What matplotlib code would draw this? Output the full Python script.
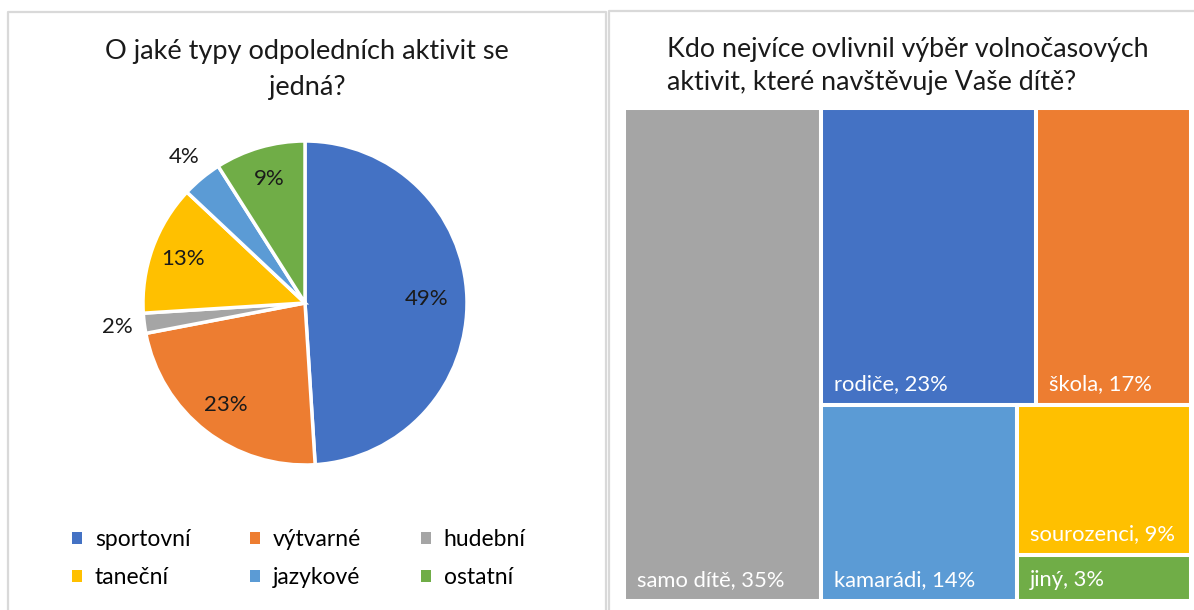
import numpy as np
import matplotlib.pyplot as plt
from matplotlib.patches import Rectangle, Patch

plt.rcParams['font.family'] = ['Lato', 'DejaVu Sans']

# pie: O jaké typy odpoledních aktivit se jedná?
pie_labels = ['sportovní', 'výtvarné', 'hudební', 'taneční', 'jazykové', 'ostatní']
pie_values = [49, 23, 2, 13, 4, 9]
pie_colors = ['#4472C4', '#ED7D31', '#A5A5A5', '#FFC000', '#5B9BD5', '#70AD47']

# treemap: Kdo nejvíce ovlivnil výběr ...
tm_labels = ['samo dítě', 'rodiče', 'škola', 'kamarádi', 'sourozenci', 'jiný']
tm_values = [35.0, 22.9, 16.6, 13.8, 9.4, 2.9]
tm_colors = ['#A5A5A5', '#4472C4', '#ED7D31', '#5B9BD5', '#FFC000', '#70AD47']

W, H = 1194, 610
fig = plt.figure(figsize=(W / 100, H / 100), dpi=100)


def px_axes(x, y, w, h):
    # axes placed by pixel box (top-left origin)
    return fig.add_axes([x / W, 1 - (y + h) / H, w / W, h / H])


# background with panel frames and titles
bg = px_axes(0, 0, W, H)
bg.set_xlim(0, W)
bg.set_ylim(H, 0)
bg.axis('off')
bg.plot([8, 8, 606, 606], [620, 12, 12, 620], color='#D9D9D9', lw=1.6)
bg.plot([609, 609, 1200], [620, 11, 11], color='#D9D9D9', lw=1.6)

bg.text(307, 69, 'O jaké typy odpoledních aktivit se\njedná?', ha='center', va='center',
        fontsize=19.5, color='#1a1a1a', linespacing=1.55)
bg.text(667, 66, 'Kdo nejvíce ovlivnil výběr volnočasových\naktivit, které navštěvuje Vaše dítě?',
        ha='left', va='center', fontsize=19.3, color='#1a1a1a', linespacing=1.38)

# ---- pie ----
ax = px_axes(143, 141, 324, 324)
wedges, _ = ax.pie(pie_values, colors=pie_colors, startangle=90, counterclock=False,
                   wedgeprops=dict(edgecolor='white', linewidth=2.5))
ax.set_xlim(-1, 1)
ax.set_ylim(-1, 1)
for w, v in zip(wedges, pie_values):
    mid = np.deg2rad((w.theta1 + w.theta2) / 2)
    if v < 5:
        r = 1.17
    elif v > 40:
        r = 0.75
    else:
        r = 0.8
    ax.text(r * np.cos(mid), r * np.sin(mid), f'{v}%', ha='center', va='center',
            fontsize=16, color='#1a1a1a')

# legend fills column by column, so reorder to read row by row
order = [0, 3, 1, 4, 2, 5]
handles = [Patch(facecolor=pie_colors[i]) for i in order]
fig.legend(handles, [pie_labels[i] for i in order], ncol=3, loc='upper left',
           bbox_to_anchor=(72 / W, 1 - 529 / H),
           frameon=False, fontsize=16.5, handlelength=0.45, handleheight=0.45, handletextpad=0.55,
           columnspacing=2.6, labelspacing=0.75, borderpad=0, borderaxespad=0)

# ---- treemap ----
tx, ty, tw, th = 624, 108, 567, 493
ax2 = px_axes(tx, ty, tw, th)
ax2.set_xlim(0, tw)
ax2.set_ylim(th, 0)
ax2.axis('off')

total = sum(tm_values)
rest = total - tm_values[0]
top = tm_values[1] + tm_values[2]
bottom = rest - top
side = tm_values[4] + tm_values[5]

w0 = tw * tm_values[0] / total
wr = tw - w0
h_top = th * top / rest
h_bot = th - h_top
w_rod = wr * tm_values[1] / top
w_kam = wr * tm_values[3] / bottom
h_sou = h_bot * tm_values[4] / side

boxes = [
    (0, 0, w0, th),
    (w0, 0, w_rod, h_top),
    (w0 + w_rod, 0, wr - w_rod, h_top),
    (w0, h_top, w_kam, h_bot),
    (w0 + w_kam, h_top, wr - w_kam, h_sou),
    (w0 + w_kam, h_top + h_sou, wr - w_kam, h_bot - h_sou),
]

for (x, y, w, h), lab, v, c in zip(boxes, tm_labels, tm_values, tm_colors):
    ax2.add_patch(Rectangle((x, y), w, h, facecolor=c, edgecolor='white', lw=2.9))
    ax2.text(x + 13, y + h - 21, f'{lab}, {round(v)}%', ha='left', va='center',
             fontsize=15.8, color='white')

fig.savefig('out.png', dpi=100)
